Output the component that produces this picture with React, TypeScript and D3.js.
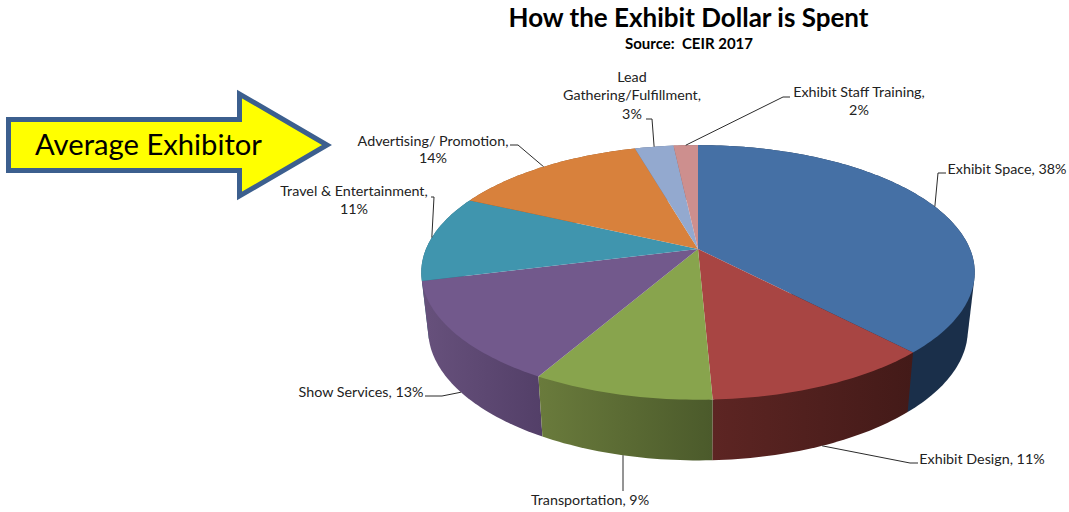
import * as d3 from "d3"

// Values, labels show them rounded
const categories = [
  "Exhibit Space",
  "Exhibit Design",
  "Transportation",
  "Show Services",
  "Travel & Entertainment",
  "Advertising/ Promotion",
  "Lead Gathering/Fulfillment",
  "Exhibit Staff Training",
]
const values = [38, 11.3, 8.9, 12.8, 11, 13.6, 2.7, 1.7]
const topColors = ["#4570a5", "#a84543", "#88a44d", "#72598c", "#4095ae", "#d8813c", "#93a9cf", "#cd8f8e"]
const sideColors = [
  ["#1a2f4a", "#1a2f4a"],
  ["#5d2523", "#431a18"],
  ["#6a7b3c", "#4b5a2b"],
  ["#67517c", "#533f68"],
  ["#2a6275", "#2a6275"],
  ["#8f5526", "#8f5526"],
  ["#616f89", "#616f89"],
  ["#876060", "#876060"],
]

// Label placement: text lines, centre x, baselines, elbow of the leader, end of the leader
const labelLayout = [
  { lines: ["Exhibit Space, 38%"], x: 1007, ys: [174], elbow: [938, 173], end: [946, 173], onSide: false },
  { lines: ["Exhibit Design, 11%"], x: 982, ys: [464], elbow: [910, 463], end: [918, 463], onSide: true },
  { lines: ["Transportation, 9%"], x: 590, ys: [505], elbow: null, end: [623, 491], onSide: true },
  { lines: ["Show Services, 13%"], x: 361, ys: [397], elbow: [442, 396], end: [425, 396], onSide: true },
  { lines: ["Travel & Entertainment,", "11%"], x: 354, ys: [196, 214], elbow: [434, 197], end: [431, 197], onSide: false },
  { lines: ["Advertising/ Promotion,", "14%"], x: 433, ys: [146, 163], elbow: [518, 145], end: [510, 145], onSide: false },
  { lines: ["Lead", "Gathering/Fulfillment,", "3%"], x: 632, ys: [82, 100, 119], elbow: [652, 119], end: [646, 119], onSide: false },
  { lines: ["Exhibit Staff Training,", "2%"], x: 859, ys: [97, 115], elbow: [783, 97], end: [790, 97], onSide: false },
]

const width = 1069
const height = 512
const font = "Lato, 'Open Sans', sans-serif"

// Perspective projection of the disc, centre of the top face lands on (cx, cy)
const cx = 698
const cy = 249
const radiusX = 272
const radiusY = 123
const tilt = 0.184
const bottomScale = 0.975
const bottomCy = 306
const bottomRadiusY = 126

function project(angle: number, bottom = false): [number, number] {
  const u = Math.sin(angle)
  const v = -Math.cos(angle)
  const w = 1 - tilt * v
  if (bottom) return [cx + (bottomScale * radiusX * u) / w, bottomCy + (bottomRadiusY * v) / w]
  return [cx + (radiusX * u) / w, cy + (radiusY * v) / w]
}

function rimPoints(start: number, end: number, bottom = false) {
  const steps = Math.max(2, Math.ceil((end - start) / 0.02))
  return d3.range(steps + 1).map((i) => project(start + ((end - start) * i) / steps, bottom))
}

const pie = d3
  .pie<number>()
  .value((d) => d)
  .sort(null)
const arcs = pie(values)
const line = d3.line()

export default function App() {
  // Walls as hulls: the chord over the top gets covered by the top faces.
  // Back walls first so the front ones overlap them.
  const wallOrder = d3.range(arcs.length).sort((a, b) => {
    const depth = (i: number) => -Math.cos((arcs[i].startAngle + arcs[i].endAngle) / 2)
    return depth(a) - depth(b)
  })
  const sides = arcs.map((a) => {
    const hull = d3.polygonHull([...rimPoints(a.startAngle, a.endAngle), ...rimPoints(a.startAngle, a.endAngle, true)])
    return line(hull ?? []) + "Z"
  })
  const tops = arcs.map((a) => line([[cx, cy], ...rimPoints(a.startAngle, a.endAngle)]) + "Z")

  return (
    <svg
      width={width}
      height={height}
      viewBox={`0 0 ${width} ${height}`}
      style={{ position: "absolute", left: 0, top: 0, background: "#fff", fontFamily: font }}
    >
      <defs>
        {arcs.map((a, i) => {
          const xs = [...rimPoints(a.startAngle, a.endAngle), ...rimPoints(a.startAngle, a.endAngle, true)].map((p) => p[0])
          return (
            <linearGradient
              key={categories[i]}
              id={`side-${i}`}
              gradientUnits="userSpaceOnUse"
              x1={d3.min(xs)}
              x2={d3.max(xs)}
              y1={0}
              y2={0}
            >
              <stop offset="0%" stopColor={sideColors[i][0]} />
              <stop offset="100%" stopColor={sideColors[i][1]} />
            </linearGradient>
          )
        })}
      </defs>

      <text x={688.5} y={27} textAnchor="middle" fontSize={26} fontWeight={700} fill="#000">
        How the Exhibit Dollar is Spent
      </text>
      <text x={689} y={49} textAnchor="middle" fontSize={15} fontWeight={700} fill="#000" style={{ whiteSpace: "pre" }}>
        {"Source:  CEIR 2017"}
      </text>

      <polygon
        points="8.5,119.5 239.5,119.5 239.5,94 327,145 239.5,196 239.5,170.5 8.5,170.5"
        fill="#ffff00"
        stroke="#3c5f8e"
        strokeWidth={5}
      />
      <text x={35} y={155} fontSize={29.2} fill="#000">
        Average Exhibitor
      </text>

      {wallOrder.map((i) => (
        <path key={categories[i]} d={sides[i]} fill={`url(#side-${i})`} />
      ))}
      {tops.map((d, i) => (
        <path key={categories[i]} d={d} fill={topColors[i]} />
      ))}

      {labelLayout.map((l, i) => {
        const mid = (arcs[i].startAngle + arcs[i].endAngle) / 2
        const start = project(mid, l.onSide)
        const pts: [number, number][] = l.elbow
          ? [start, l.elbow as [number, number], l.end as [number, number]]
          : [[l.end[0], start[1]], l.end as [number, number]]
        return (
          <g key={categories[i]}>
            <path d={line(pts) ?? ""} fill="none" stroke="#2b2b2b" strokeWidth={1} />
            {l.lines.map((t, j) => (
              <text key={t} x={l.x} y={l.ys[j]} textAnchor="middle" fontSize={14.3} fill="#222">
                {t}
              </text>
            ))}
          </g>
        )
      })}
    </svg>
  )
}
